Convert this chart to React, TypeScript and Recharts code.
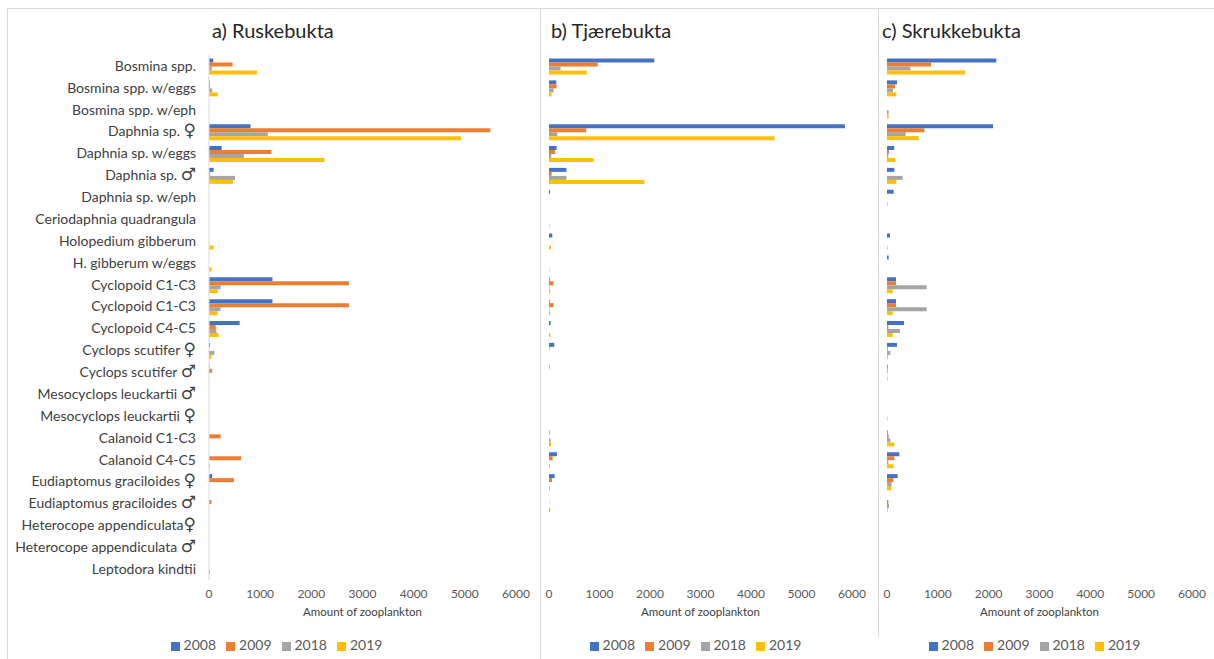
import React from "react";
import { BarChart, Bar, XAxis, YAxis, Legend } from "recharts";

// Zooplankton counts per taxon at three sampling sites, four survey years.

const categories = [
  "Bosmina spp.",
  "Bosmina spp. w/eggs",
  "Bosmina spp. w/eph",
  "Daphnia sp. ♀",
  "Daphnia sp. w/eggs",
  "Daphnia sp. ♂",
  "Daphnia sp. w/eph",
  "Ceriodaphnia quadrangula",
  "Holopedium gibberum",
  "H. gibberum w/eggs",
  "Cyclopoid C1-C3",
  "Cyclopoid C1-C3",
  "Cyclopoid C4-C5",
  "Cyclops scutifer ♀",
  "Cyclops scutifer ♂",
  "Mesocyclops leuckartii ♂",
  "Mesocyclops leuckartii ♀",
  "Calanoid C1-C3",
  "Calanoid C4-C5",
  "Eudiaptomus graciloides ♀",
  "Eudiaptomus graciloides ♂",
  "Heterocope appendiculata♀",
  "Heterocope appendiculata ♂",
  "Leptodora kindtii",
];

const years = ["2008", "2009", "2018", "2019"];
const yearColors = ["#4472C4", "#ED7D31", "#A5A5A5", "#FFC000"];
const xTicks = [0, 1000, 2000, 3000, 4000, 5000, 6000];

// a) Ruskebukta
const ruske2008 = [83, 14, 0, 812, 248, 90, 0, 0, 0, 0, 1240, 1240, 599, 20, 7, 0, 0, 0, 0, 62, 0, 0, 0, 0];
const ruske2009 = [460, 20, 0, 5500, 1218, 20, 0, 0, 0, 0, 2735, 2735, 131, 0, 62, 0, 0, 227, 626, 489, 48, 0, 0, 0];
const ruske2018 = [55, 62, 0, 1150, 681, 509, 0, 0, 0, 0, 227, 227, 145, 103, 0, 0, 0, 0, 0, 0, 0, 0, 0, 20];
const ruske2019 = [936, 172, 0, 4925, 2257, 468, 0, 0, 90, 55, 172, 172, 186, 48, 0, 0, 0, 0, 20, 0, 0, 0, 0, 0];

// b) Tjærebukta
const tjaere2008 = [2085, 144, 0, 5860, 150, 346, 20, 0, 65, 0, 13, 13, 33, 104, 10, 0, 0, 10, 157, 111, 0, 0, 0, 0];
const tjaere2009 = [965, 150, 0, 737, 117, 52, 0, 0, 0, 0, 91, 91, 0, 10, 0, 0, 0, 0, 72, 59, 5, 0, 0, 0];
const tjaere2018 = [228, 91, 0, 163, 46, 346, 0, 0, 0, 0, 10, 10, 0, 0, 0, 0, 0, 33, 0, 0, 0, 0, 0, 0];
const tjaere2019 = [750, 52, 0, 4465, 881, 1890, 0, 10, 40, 10, 26, 26, 26, 0, 0, 0, 0, 40, 20, 20, 26, 0, 0, 0];

// c) Skrukkebukta
const skrukke2008 = [2150, 197, 0, 2087, 144, 144, 131, 0, 59, 33, 177, 177, 335, 197, 13, 0, 0, 13, 243, 210, 0, 0, 0, 0];
const skrukke2009 = [866, 157, 0, 735, 39, 0, 0, 0, 0, 0, 177, 177, 26, 13, 13, 0, 0, 33, 144, 125, 26, 0, 0, 0];
const skrukke2018 = [459, 118, 33, 367, 26, 308, 0, 0, 0, 0, 781, 781, 256, 66, 0, 0, 8, 66, 26, 92, 39, 0, 0, 0];
const skrukke2019 = [1535, 184, 33, 623, 164, 184, 13, 0, 13, 0, 112, 112, 112, 20, 13, 0, 0, 144, 131, 85, 13, 0, 0, 0];

const FONT = "Lato, 'Open Sans', sans-serif";

function buildRows(series: number[][]) {
  return categories.map((name, i) => {
    const row: Record<string, string | number> = { name };
    years.forEach((y, k) => {
      row[y] = series[k][i];
    });
    return row;
  });
}

// Taxon label; a trailing sex sign is drawn a bit larger than the name.
function TaxonTick(props: any) {
  const { x, y, payload } = props;
  const label: string = payload.value;
  const last = label.slice(-1);
  const hasSign = last === "♀" || last === "♂";
  const base = hasSign ? label.slice(0, -1) : label;
  return (
    <text x={x} y={y} dy="0.35em" textAnchor="end" fontSize={14} fill="#404040" fontFamily={FONT}>
      {base}
      {hasSign && (
        <tspan fontSize={17} fontWeight="bold" fontFamily="'DejaVu Sans', sans-serif">
          {last}
        </tspan>
      )}
    </text>
  );
}

interface PanelProps {
  title: string;
  series: number[][];
  left: number;
  width: number;
  titleLeft: number;
  showLabels: boolean;
  margin: { top: number; right: number; bottom: number; left: number };
  legendShift: number;
}

function Panel({ title, series, left, width, titleLeft, showLabels, margin, legendShift }: PanelProps) {
  const data = buildRows(series);
  return (
    <>
      <div
        style={{
          position: "absolute",
          left: titleLeft,
          top: 17,
          fontSize: 20,
          lineHeight: "26px",
          color: "#262626",
          fontFamily: FONT,
          whiteSpace: "nowrap",
        }}
      >
        {title}
      </div>
      <div style={{ position: "absolute", left, top: 9 }}>
        <BarChart
          width={width}
          height={650}
          data={data}
          layout="vertical"
          margin={margin}
          barCategoryGap="16%"
          barGap={0}
          style={{ fontFamily: FONT }}
        >
          <XAxis
            type="number"
            domain={[0, 6000]}
            ticks={xTicks}
            axisLine={false}
            tickLine={false}
            tickSize={0}
            tickMargin={9}
            height={40}
            tick={{ fontSize: 12, fill: "#595959" }}
            label={{
              value: "Amount of zooplankton",
              position: "insideBottom",
              offset: 4,
              fontSize: 11.5,
              fill: "#404040",
            }}
          />
          <YAxis
            type="category"
            dataKey="name"
            width={showLabels ? 190 : 0}
            interval={0}
            axisLine={{ stroke: "#d9d9d9" }}
            tickLine={false}
            tickSize={0}
            tickMargin={13}
            tick={showLabels ? <TaxonTick /> : false}
          />
          <Legend
            verticalAlign="bottom"
            iconType="square"
            iconSize={9}
            wrapperStyle={{ bottom: 6, left: margin.left + legendShift, fontSize: 14 }}
            formatter={(value) => <span style={{ color: "#595959" }}>{value}</span>}
          />
          {years.map((y, k) => (
            <Bar key={y} dataKey={y} name={y} fill={yearColors[k]} isAnimationActive={false} />
          ))}
        </BarChart>
      </div>
    </>
  );
}

export default function App() {
  return (
    <div
      style={{
        position: "absolute",
        left: 0,
        top: 0,
        width: 1214,
        height: 659,
        background: "#fff",
        overflow: "hidden",
        fontFamily: FONT,
      }}
    >
      {/* panel frames */}
      <div style={{ position: "absolute", left: 7, top: 8, width: 1210, height: 700, borderTop: "1px solid #d9d9d9", borderLeft: "1px solid #d9d9d9" }} />
      <div style={{ position: "absolute", left: 540, top: 8, width: 1, height: 660, background: "#d9d9d9" }} />
      <div style={{ position: "absolute", left: 878, top: 8, width: 1, height: 629, background: "#d9d9d9" }} />

      <Panel
        title="a) Ruskebukta"
        series={[ruske2008, ruske2009, ruske2018, ruske2019]}
        left={8}
        width={532}
        titleLeft={212}
        showLabels
        margin={{ top: 46, right: 24, bottom: 22, left: 11 }}
        legendShift={14}
      />
      <Panel
        title="b) Tjærebukta"
        series={[tjaere2008, tjaere2009, tjaere2018, tjaere2019]}
        left={541}
        width={337}
        titleLeft={551}
        showLabels={false}
        margin={{ top: 46, right: 26, bottom: 22, left: 8 }}
        legendShift={0}
      />
      <Panel
        title="c) Skrukkebukta"
        series={[skrukke2008, skrukke2009, skrukke2018, skrukke2019]}
        left={879}
        width={335}
        titleLeft={882}
        showLabels={false}
        margin={{ top: 46, right: 22, bottom: 22, left: 8 }}
        legendShift={0}
      />
    </div>
  );
}
